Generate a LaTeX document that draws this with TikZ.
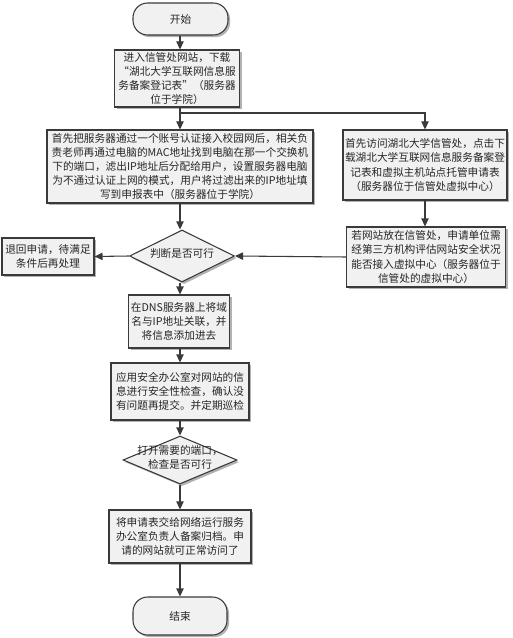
\documentclass[tikz,border=0pt]{standalone}
\usepackage{fontspec}
\setmainfont{Noto Sans CJK SC}
\usetikzlibrary{arrows.meta,shapes.geometric,shadows}
\newcommand\PX{0.75pt}
\newcommand\dtext[1]{\raisebox{-2.6pt}{\smash{\makebox[0pt]{\begin{tabular}{@{}c@{}}#1\end{tabular}}}}}
\definecolor{lineC}{HTML}{3A3A3A}
\definecolor{boxF}{HTML}{F1F1F1}
\tikzset{
  base/.style={draw=lineC, line width=0.8pt, fill=boxF, inner sep=0pt, align=center,
    text=black!85, font=\fontsize{8}{10.6}\selectfont,
    drop shadow={shadow xshift=1.6pt, shadow yshift=-1.6pt, fill=black!30, opacity=1}},
  procbox/.style={base, rectangle},
  termbox/.style={base, rectangle, rounded corners=11pt},
  decbox/.style={base, diamond},
  conn/.style={draw=lineC, line width=0.8pt, -{Triangle[length=6pt,width=5.5pt]}},
}
\begin{document}
\begin{tikzpicture}[x=0.75pt,y=-0.75pt]
\useasboundingbox (0,0) rectangle (513,638);

\node[termbox, minimum width=95*\PX, minimum height=32*\PX] (start) at (180.5,19) {开始};
\node[procbox, minimum width=125*\PX, minimum height=57*\PX] (b1) at (177,78.5)
  {进入信管处网站，下载\\“湖北大学互联网信息服\\务备案登记表”（服务器\\位于学院）};
\node[procbox, minimum width=266*\PX, minimum height=73*\PX] (b2) at (180,166.5)
  {首先把服务器通过一个账号认证接入校园网后，相关负\\责老师再通过电脑的MAC地址找到电脑在那一个交换机\\下的端口，滤出IP地址后分配给用户，设置服务器电脑\\为不通过认证上网的模式，用户将过滤出来的IP地址填\\写到申报表中（服务器位于学院）};
\node[procbox, minimum width=164*\PX, minimum height=70*\PX] (b3) at (425,165)
  {首先访问湖北大学信管处，点击下\\载湖北大学互联网信息服务备案登\\记表和虚拟主机站点托管申请表\\（服务器位于信管处虚拟中心）};
\node[procbox, minimum width=159*\PX, minimum height=60*\PX] (b4) at (426,257)
  {若网站放在信管处，申请单位需\\经第三方机构评估网站安全状况\\能否接入虚拟中心（服务器位于\\信管处的虚拟中心）};
\node[decbox, minimum width=105*\PX, minimum height=52*\PX] (d1) at (182,256) {\dtext{判断是否可行}};
\node[procbox, minimum width=92*\PX, minimum height=37*\PX] (rej) at (48,256.5)
  {退回申请，待满足\\条件后再处理};
\node[procbox, minimum width=101*\PX, minimum height=53*\PX] (dns) at (179,321.5)
  {在DNS服务器上将域\\名与IP地址关联，并\\将信息添加进去};
\node[procbox, minimum width=138*\PX, minimum height=57*\PX] (sec) at (180,391.5)
  {应用安全办公室对网站的信\\息进行安全性检查，确认没\\有问题再提交。并定期巡检};
\node[decbox, minimum width=114*\PX, minimum height=48*\PX] (d2) at (180,460)
  {\dtext{打开需要的端口，\\检查是否可行}};
\node[procbox, minimum width=142*\PX, minimum height=53*\PX] (fin) at (180,536.5)
  {将申请表交给网络运行服务\\办公室负责人备案归档。申\\请的网站就可正常访问了};
\node[termbox, minimum width=94*\PX, minimum height=38*\PX] (end) at (180,616) {结束};

\coordinate (ax) at (180,0);
\coordinate (br) at (180,113);
\draw[conn] (start.south -| ax) -- (ax |- b1.north);
\draw[conn] (ax |- b1.south) -- (ax |- b2.north);
\draw[conn] (br) -| (b3.north);
\draw[conn] (ax |- b2.south) -- (ax |- d1.north);
\draw[conn] (b3.south) -- (b3.south |- b4.north);
\draw[conn] (b4.west) -- (d1.east);
\draw[conn] (d1.west) -- (rej.east);
\draw[conn] (ax |- d1.south) -- (ax |- dns.north);
\draw[conn] (ax |- dns.south) -- (ax |- sec.north);
\draw[conn] (sec.south) -- (d2.north);
\draw[conn] (d2.south) -- (fin.north);
\draw[conn] (fin.south) -- (end.north);
\end{tikzpicture}
\end{document}
